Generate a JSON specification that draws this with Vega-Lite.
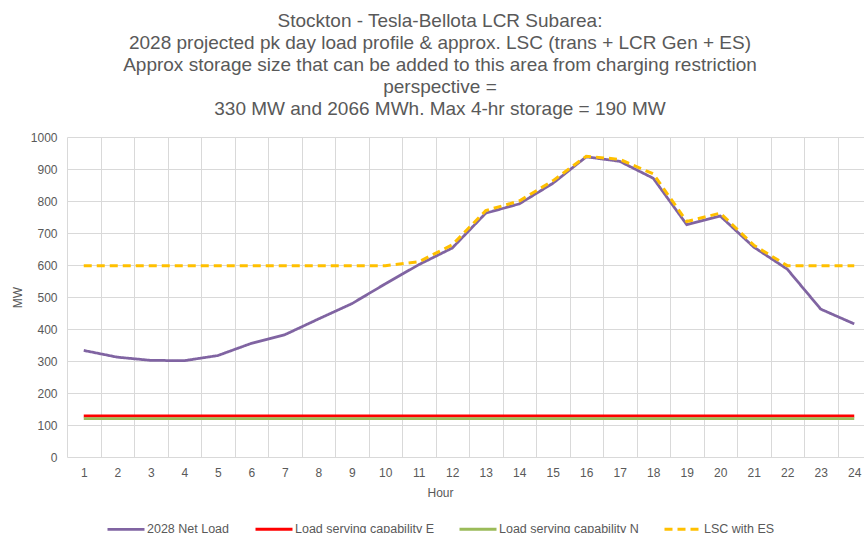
{
  "$schema": "https://vega.github.io/schema/vega-lite/v6.json",
  "width": 804,
  "height": 320,
  "autosize": {"type": "none"},
  "padding": {"left": 67, "top": 137, "right": 0, "bottom": 76},
  "background": "white",
  "title": {
    "text": ["Stockton - Tesla-Bellota LCR Subarea:", "2028 projected pk day load profile & approx. LSC (trans + LCR Gen + ES)", "Approx storage size that can be added to this area from charging restriction", "perspective =", "330 MW and 2066 MWh. Max 4-hr storage = 190 MW"],
    "font": "Liberation Sans",
    "fontSize": 19,
    "fontWeight": "normal",
    "color": "#595959",
    "lineHeight": 22,
    "anchor": "middle",
    "frame": "group",
    "dx": -29,
    "offset": 12
  },
  "data": {
    "values": [
      {"hour": 1, "series": "2028 Net Load", "value": 333},
      {"hour": 2, "series": "2028 Net Load", "value": 312},
      {"hour": 3, "series": "2028 Net Load", "value": 302},
      {"hour": 4, "series": "2028 Net Load", "value": 301},
      {"hour": 5, "series": "2028 Net Load", "value": 317},
      {"hour": 6, "series": "2028 Net Load", "value": 355},
      {"hour": 7, "series": "2028 Net Load", "value": 382},
      {"hour": 8, "series": "2028 Net Load", "value": 431},
      {"hour": 9, "series": "2028 Net Load", "value": 479},
      {"hour": 10, "series": "2028 Net Load", "value": 541},
      {"hour": 11, "series": "2028 Net Load", "value": 601},
      {"hour": 12, "series": "2028 Net Load", "value": 653},
      {"hour": 13, "series": "2028 Net Load", "value": 762},
      {"hour": 14, "series": "2028 Net Load", "value": 791},
      {"hour": 15, "series": "2028 Net Load", "value": 855},
      {"hour": 16, "series": "2028 Net Load", "value": 938},
      {"hour": 17, "series": "2028 Net Load", "value": 924},
      {"hour": 18, "series": "2028 Net Load", "value": 871},
      {"hour": 19, "series": "2028 Net Load", "value": 726},
      {"hour": 20, "series": "2028 Net Load", "value": 753},
      {"hour": 21, "series": "2028 Net Load", "value": 656},
      {"hour": 22, "series": "2028 Net Load", "value": 587},
      {"hour": 23, "series": "2028 Net Load", "value": 462},
      {"hour": 24, "series": "2028 Net Load", "value": 416},
      {"hour": 1, "series": "Load serving capability E", "value": 128},
      {"hour": 2, "series": "Load serving capability E", "value": 128},
      {"hour": 3, "series": "Load serving capability E", "value": 128},
      {"hour": 4, "series": "Load serving capability E", "value": 128},
      {"hour": 5, "series": "Load serving capability E", "value": 128},
      {"hour": 6, "series": "Load serving capability E", "value": 128},
      {"hour": 7, "series": "Load serving capability E", "value": 128},
      {"hour": 8, "series": "Load serving capability E", "value": 128},
      {"hour": 9, "series": "Load serving capability E", "value": 128},
      {"hour": 10, "series": "Load serving capability E", "value": 128},
      {"hour": 11, "series": "Load serving capability E", "value": 128},
      {"hour": 12, "series": "Load serving capability E", "value": 128},
      {"hour": 13, "series": "Load serving capability E", "value": 128},
      {"hour": 14, "series": "Load serving capability E", "value": 128},
      {"hour": 15, "series": "Load serving capability E", "value": 128},
      {"hour": 16, "series": "Load serving capability E", "value": 128},
      {"hour": 17, "series": "Load serving capability E", "value": 128},
      {"hour": 18, "series": "Load serving capability E", "value": 128},
      {"hour": 19, "series": "Load serving capability E", "value": 128},
      {"hour": 20, "series": "Load serving capability E", "value": 128},
      {"hour": 21, "series": "Load serving capability E", "value": 128},
      {"hour": 22, "series": "Load serving capability E", "value": 128},
      {"hour": 23, "series": "Load serving capability E", "value": 128},
      {"hour": 24, "series": "Load serving capability E", "value": 128},
      {"hour": 1, "series": "Load serving capability N", "value": 120},
      {"hour": 2, "series": "Load serving capability N", "value": 120},
      {"hour": 3, "series": "Load serving capability N", "value": 120},
      {"hour": 4, "series": "Load serving capability N", "value": 120},
      {"hour": 5, "series": "Load serving capability N", "value": 120},
      {"hour": 6, "series": "Load serving capability N", "value": 120},
      {"hour": 7, "series": "Load serving capability N", "value": 120},
      {"hour": 8, "series": "Load serving capability N", "value": 120},
      {"hour": 9, "series": "Load serving capability N", "value": 120},
      {"hour": 10, "series": "Load serving capability N", "value": 120},
      {"hour": 11, "series": "Load serving capability N", "value": 120},
      {"hour": 12, "series": "Load serving capability N", "value": 120},
      {"hour": 13, "series": "Load serving capability N", "value": 120},
      {"hour": 14, "series": "Load serving capability N", "value": 120},
      {"hour": 15, "series": "Load serving capability N", "value": 120},
      {"hour": 16, "series": "Load serving capability N", "value": 120},
      {"hour": 17, "series": "Load serving capability N", "value": 120},
      {"hour": 18, "series": "Load serving capability N", "value": 120},
      {"hour": 19, "series": "Load serving capability N", "value": 120},
      {"hour": 20, "series": "Load serving capability N", "value": 120},
      {"hour": 21, "series": "Load serving capability N", "value": 120},
      {"hour": 22, "series": "Load serving capability N", "value": 120},
      {"hour": 23, "series": "Load serving capability N", "value": 120},
      {"hour": 24, "series": "Load serving capability N", "value": 120},
      {"hour": 1, "series": "LSC with ES", "value": 598},
      {"hour": 2, "series": "LSC with ES", "value": 598},
      {"hour": 3, "series": "LSC with ES", "value": 598},
      {"hour": 4, "series": "LSC with ES", "value": 598},
      {"hour": 5, "series": "LSC with ES", "value": 598},
      {"hour": 6, "series": "LSC with ES", "value": 598},
      {"hour": 7, "series": "LSC with ES", "value": 598},
      {"hour": 8, "series": "LSC with ES", "value": 598},
      {"hour": 9, "series": "LSC with ES", "value": 598},
      {"hour": 10, "series": "LSC with ES", "value": 598},
      {"hour": 11, "series": "LSC with ES", "value": 610},
      {"hour": 12, "series": "LSC with ES", "value": 663},
      {"hour": 13, "series": "LSC with ES", "value": 770},
      {"hour": 14, "series": "LSC with ES", "value": 800},
      {"hour": 15, "series": "LSC with ES", "value": 863},
      {"hour": 16, "series": "LSC with ES", "value": 940},
      {"hour": 17, "series": "LSC with ES", "value": 930},
      {"hour": 18, "series": "LSC with ES", "value": 885},
      {"hour": 19, "series": "LSC with ES", "value": 736},
      {"hour": 20, "series": "LSC with ES", "value": 762},
      {"hour": 21, "series": "LSC with ES", "value": 662},
      {"hour": 22, "series": "LSC with ES", "value": 598},
      {"hour": 23, "series": "LSC with ES", "value": 598},
      {"hour": 24, "series": "LSC with ES", "value": 598}
    ]
  },
  "mark": {"type": "line", "strokeCap": "butt"},
  "encoding": {
    "x": {
      "field": "hour",
      "type": "ordinal",
      "scale": {"type": "band", "paddingInner": 0, "paddingOuter": 0},
      "axis": {
        "title": "Hour",
        "labelAngle": 0,
        "tickBand": "extent",
        "grid": true,
        "gridColor": "#d9d9d9",
        "gridWidth": 1,
        "domain": false,
        "ticks": false,
        "labelFont": "Liberation Sans",
        "labelFontSize": 12,
        "labelColor": "#595959",
        "labelPadding": 10,
        "titleFont": "Liberation Sans",
        "titleFontSize": 12,
        "titleFontWeight": "normal",
        "titleColor": "#595959",
        "titlePadding": 9,
        "titleX": 373
      }
    },
    "y": {
      "field": "value",
      "type": "quantitative",
      "scale": {"domain": [0, 1000], "nice": false},
      "axis": {
        "title": "MW",
        "format": "d",
        "values": [0, 100, 200, 300, 400, 500, 600, 700, 800, 900, 1000],
        "grid": true,
        "gridColor": "#d9d9d9",
        "gridWidth": 1,
        "domain": false,
        "ticks": false,
        "labelFont": "Liberation Sans",
        "labelFontSize": 12,
        "labelColor": "#595959",
        "labelPadding": 10,
        "titleFont": "Liberation Sans",
        "titleFontSize": 12,
        "titleFontWeight": "normal",
        "titleColor": "#595959",
        "titlePadding": 6
      }
    },
    "color": {
      "field": "series",
      "type": "nominal",
      "title": null,
      "scale": {
        "domain": ["2028 Net Load", "Load serving capability E", "Load serving capability N", "LSC with ES"],
        "range": ["#8064A2", "#FF0000", "#9BBB59", "#FFC000"]
      },
      "legend": {
        "orient": "none",
        "direction": "horizontal",
        "legendX": 39,
        "legendY": 372,
        "padding": 0,
        "symbolType": "stroke",
        "symbolSize": 1369,
        "symbolStrokeWidth": 3,
        "labelOffset": 1,
        "columnPadding": 19,
        "labelFont": "Liberation Sans",
        "labelFontSize": 12.5,
        "labelColor": "#595959"
      }
    },
    "strokeDash": {
      "field": "series",
      "type": "nominal",
      "title": null,
      "scale": {
        "domain": ["2028 Net Load", "Load serving capability E", "Load serving capability N", "LSC with ES"],
        "range": [[1, 0], [1, 0], [1, 0], [8, 5]]
      }
    },
    "strokeWidth": {
      "field": "series",
      "type": "nominal",
      "scale": {
        "domain": ["2028 Net Load", "Load serving capability E", "Load serving capability N", "LSC with ES"],
        "range": [2.75, 3, 3, 3]
      },
      "legend": null
    },
    "order": {"field": "hour", "type": "quantitative"}
  },
  "config": {
    "view": {"stroke": null}
  }
}
